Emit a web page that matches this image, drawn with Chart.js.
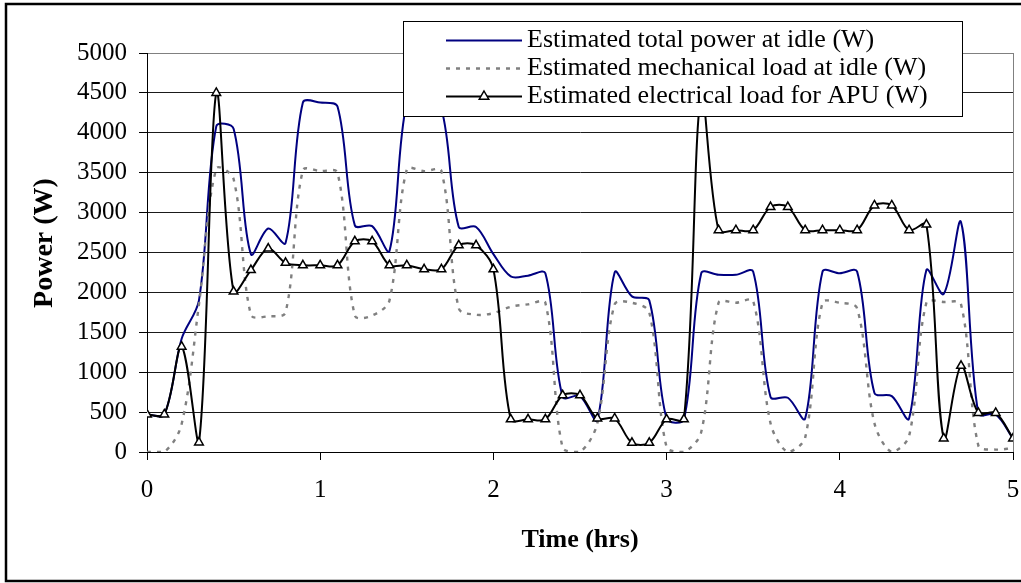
<!DOCTYPE html>
<html>
<head>
<meta charset="utf-8">
<script src="https://cdn.jsdelivr.net/npm/chart.js@4/dist/chart.umd.min.js"></script>
<style>
  html, body { margin: 0; padding: 0; background: #fff; }
  canvas { display: block; }
</style>
</head>
<body>
<canvas id="c" width="1021" height="583"></canvas>
<script>
// Time axis (hrs), one sample every 0.1 h
const hours = [0, 0.1, 0.2, 0.3, 0.4, 0.5, 0.6, 0.7, 0.8, 0.9,
  1.0, 1.1, 1.2, 1.3, 1.4, 1.5, 1.6, 1.7, 1.8, 1.9,
  2.0, 2.1, 2.2, 2.3, 2.4, 2.5, 2.6, 2.7, 2.8, 2.9,
  3.0, 3.1, 3.2, 3.3, 3.4, 3.5, 3.6, 3.7, 3.8, 3.9,
  4.0, 4.1, 4.2, 4.3, 4.4, 4.5, 4.6, 4.7, 4.8, 4.9, 5.0];

// Estimated total power at idle (W)
const totalPower = [470, 470, 1420, 1900, 4080, 4050, 2480, 2800, 2620, 4380,
  4380, 4330, 2840, 2830, 2520, 4380, 4400, 4300, 2820, 2820,
  2480, 2200, 2210, 2240, 690, 700, 400, 2250, 1950, 1900,
  420, 410, 2240, 2220, 2220, 2260, 690, 680, 420, 2260,
  2240, 2260, 740, 700, 420, 2280, 1980, 2880, 480, 470, 170];

// Estimated mechanical load at idle (W)
const mechLoad = [0, 0, 350, 1850, 3550, 3420, 1720, 1700, 1750, 3530,
  3520, 3500, 1710, 1710, 1900, 3540, 3520, 3520, 1800, 1720,
  1740, 1820, 1850, 1870, 50, 0, 360, 1850, 1870, 1750,
  60, 0, 250, 1870, 1870, 1890, 360, 0, 180, 1870,
  1870, 1800, 360, 0, 200, 1870, 1880, 1850, 80, 30, 50];

// Estimated electrical load for APU (W)
const apuLoad = [470, 470, 1320, 120, 4500, 2010, 2280, 2550, 2370, 2340,
  2340, 2340, 2640, 2640, 2340, 2340, 2290, 2290, 2590, 2590,
  2290, 410, 410, 410, 710, 710, 420, 420, 115, 115,
  410, 410, 4500, 2780, 2780, 2780, 3070, 3070, 2780, 2780,
  2780, 2780, 3090, 3090, 2780, 2850, 170, 1080, 490, 490, 170];

const FONT = "'Times New Roman', 'Liberation Serif', serif";

const pts = arr => hours.map((h, i) => ({x: h, y: arr[i]}));

// white page + outer frame + rotated y title
const frame = {
  id: 'frame',
  beforeDraw(chart) {
    const ctx = chart.ctx;
    ctx.save();
    ctx.fillStyle = '#fff';
    ctx.fillRect(0, 0, chart.width, chart.height);
    ctx.strokeStyle = '#000';
    ctx.lineWidth = 2.5;
    ctx.strokeRect(6, 4, 1022, 577);   // right edge falls off the canvas, as in the original
    ctx.translate(45, 243);
    ctx.rotate(-Math.PI / 2);
    ctx.font = 'bold 28px ' + FONT;
    ctx.fillStyle = '#000';
    ctx.textAlign = 'center';
    ctx.textBaseline = 'middle';
    ctx.fillText('Power (W)', 0, 0);
    ctx.restore();
  }
};

// legend box drawn over the plot, like the original
const legendBox = {
  id: 'legendBox',
  afterDraw(chart) {
    const ctx = chart.ctx;
    ctx.save();
    ctx.fillStyle = '#fff';
    ctx.fillRect(403, 21, 559, 95);
    ctx.strokeStyle = '#000';
    ctx.lineWidth = 1;
    ctx.strokeRect(403.5, 21.5, 559, 95);
    ctx.font = '26px ' + FONT;
    ctx.textBaseline = 'middle';
    chart.data.datasets.forEach((ds, i) => {
      const y = 40.5 + i * 28;
      ctx.beginPath();
      ctx.strokeStyle = ds.borderColor;
      ctx.lineWidth = ds.borderWidth;
      ctx.setLineDash(ds.borderDash || []);
      ctx.moveTo(446, y);
      ctx.lineTo(522, y);
      ctx.stroke();
      ctx.setLineDash([]);
      if (ds.pointStyle === 'triangle') {
        const r = 5.5, cx = 484;
        ctx.beginPath();
        ctx.moveTo(cx, y - r);
        ctx.lineTo(cx + r * 0.866, y + r / 2);
        ctx.lineTo(cx - r * 0.866, y + r / 2);
        ctx.closePath();
        ctx.fillStyle = '#fff';
        ctx.fill();
        ctx.lineWidth = 1.5;
        ctx.strokeStyle = '#000';
        ctx.stroke();
      }
      ctx.fillStyle = '#000';
      ctx.fillText(ds.label, 527, y);
    });
    ctx.restore();
  }
};

Chart.defaults.font.family = FONT;
Chart.defaults.color = '#000';

new Chart(document.getElementById('c'), {
  type: 'line',
  data: {
    datasets: [
      {
        label: 'Estimated total power at idle (W)',
        data: pts(totalPower),
        borderColor: '#000080',
        borderWidth: 2,
        pointRadius: 0,
        order: 3,
      },
      {
        label: 'Estimated mechanical load at idle (W)',
        data: pts(mechLoad),
        borderColor: '#808080',
        borderWidth: 2.4,
        borderDash: [4, 6],
        pointRadius: 0,
        order: 2,
      },
      {
        label: 'Estimated electrical load for APU (W)',
        data: pts(apuLoad),
        borderColor: '#000',
        borderWidth: 2,
        pointStyle: 'triangle',
        pointRadius: 5,
        pointBorderWidth: 1.5,
        pointBorderColor: '#000',
        pointBackgroundColor: '#fff',
        order: 1,
      },
    ],
  },
  options: {
    responsive: false,
    animation: false,
    devicePixelRatio: 1,
    layout: {padding: {left: 0, top: 53, right: 8, bottom: 0}},
    elements: {line: {tension: 0.33, fill: false}},
    plugins: {
      legend: {display: false},
      tooltip: {enabled: false},
    },
    scales: {
      x: {
        type: 'linear',
        min: 0,
        max: 5,
        afterFit: s => { s.height = 131; s.paddingLeft = 0; s.paddingRight = 0; },
        ticks: {stepSize: 1, padding: 15, font: {size: 25, lineHeight: 1.2}},
        grid: {
          color: c => c.tick && c.tick.value === 5 ? '#808080' : 'rgba(0,0,0,0)',
          tickColor: '#000',
          tickLength: 8,
        },
        border: {color: '#000', width: 1},
        title: {
          display: true,
          text: 'Time (hrs)',
          font: {size: 26, weight: 'bold', lineHeight: 1.2},
          padding: {bottom: 27, top: 0},
        },
      },
      y: {
        min: 0,
        max: 5000,
        afterFit: s => { s.width = 147; },
        ticks: {stepSize: 500, padding: 12, font: {size: 25, lineHeight: 1.2}, callback: v => String(v)},
        grid: {
          color: c => c.tick && c.tick.value === 5000 ? '#808080' : '#1a1a1a',
          tickColor: '#000',
          tickLength: 8,
        },
        border: {color: '#000', width: 1},
      },
    },
  },
  plugins: [frame, legendBox],
});
</script>
</body>
</html>
